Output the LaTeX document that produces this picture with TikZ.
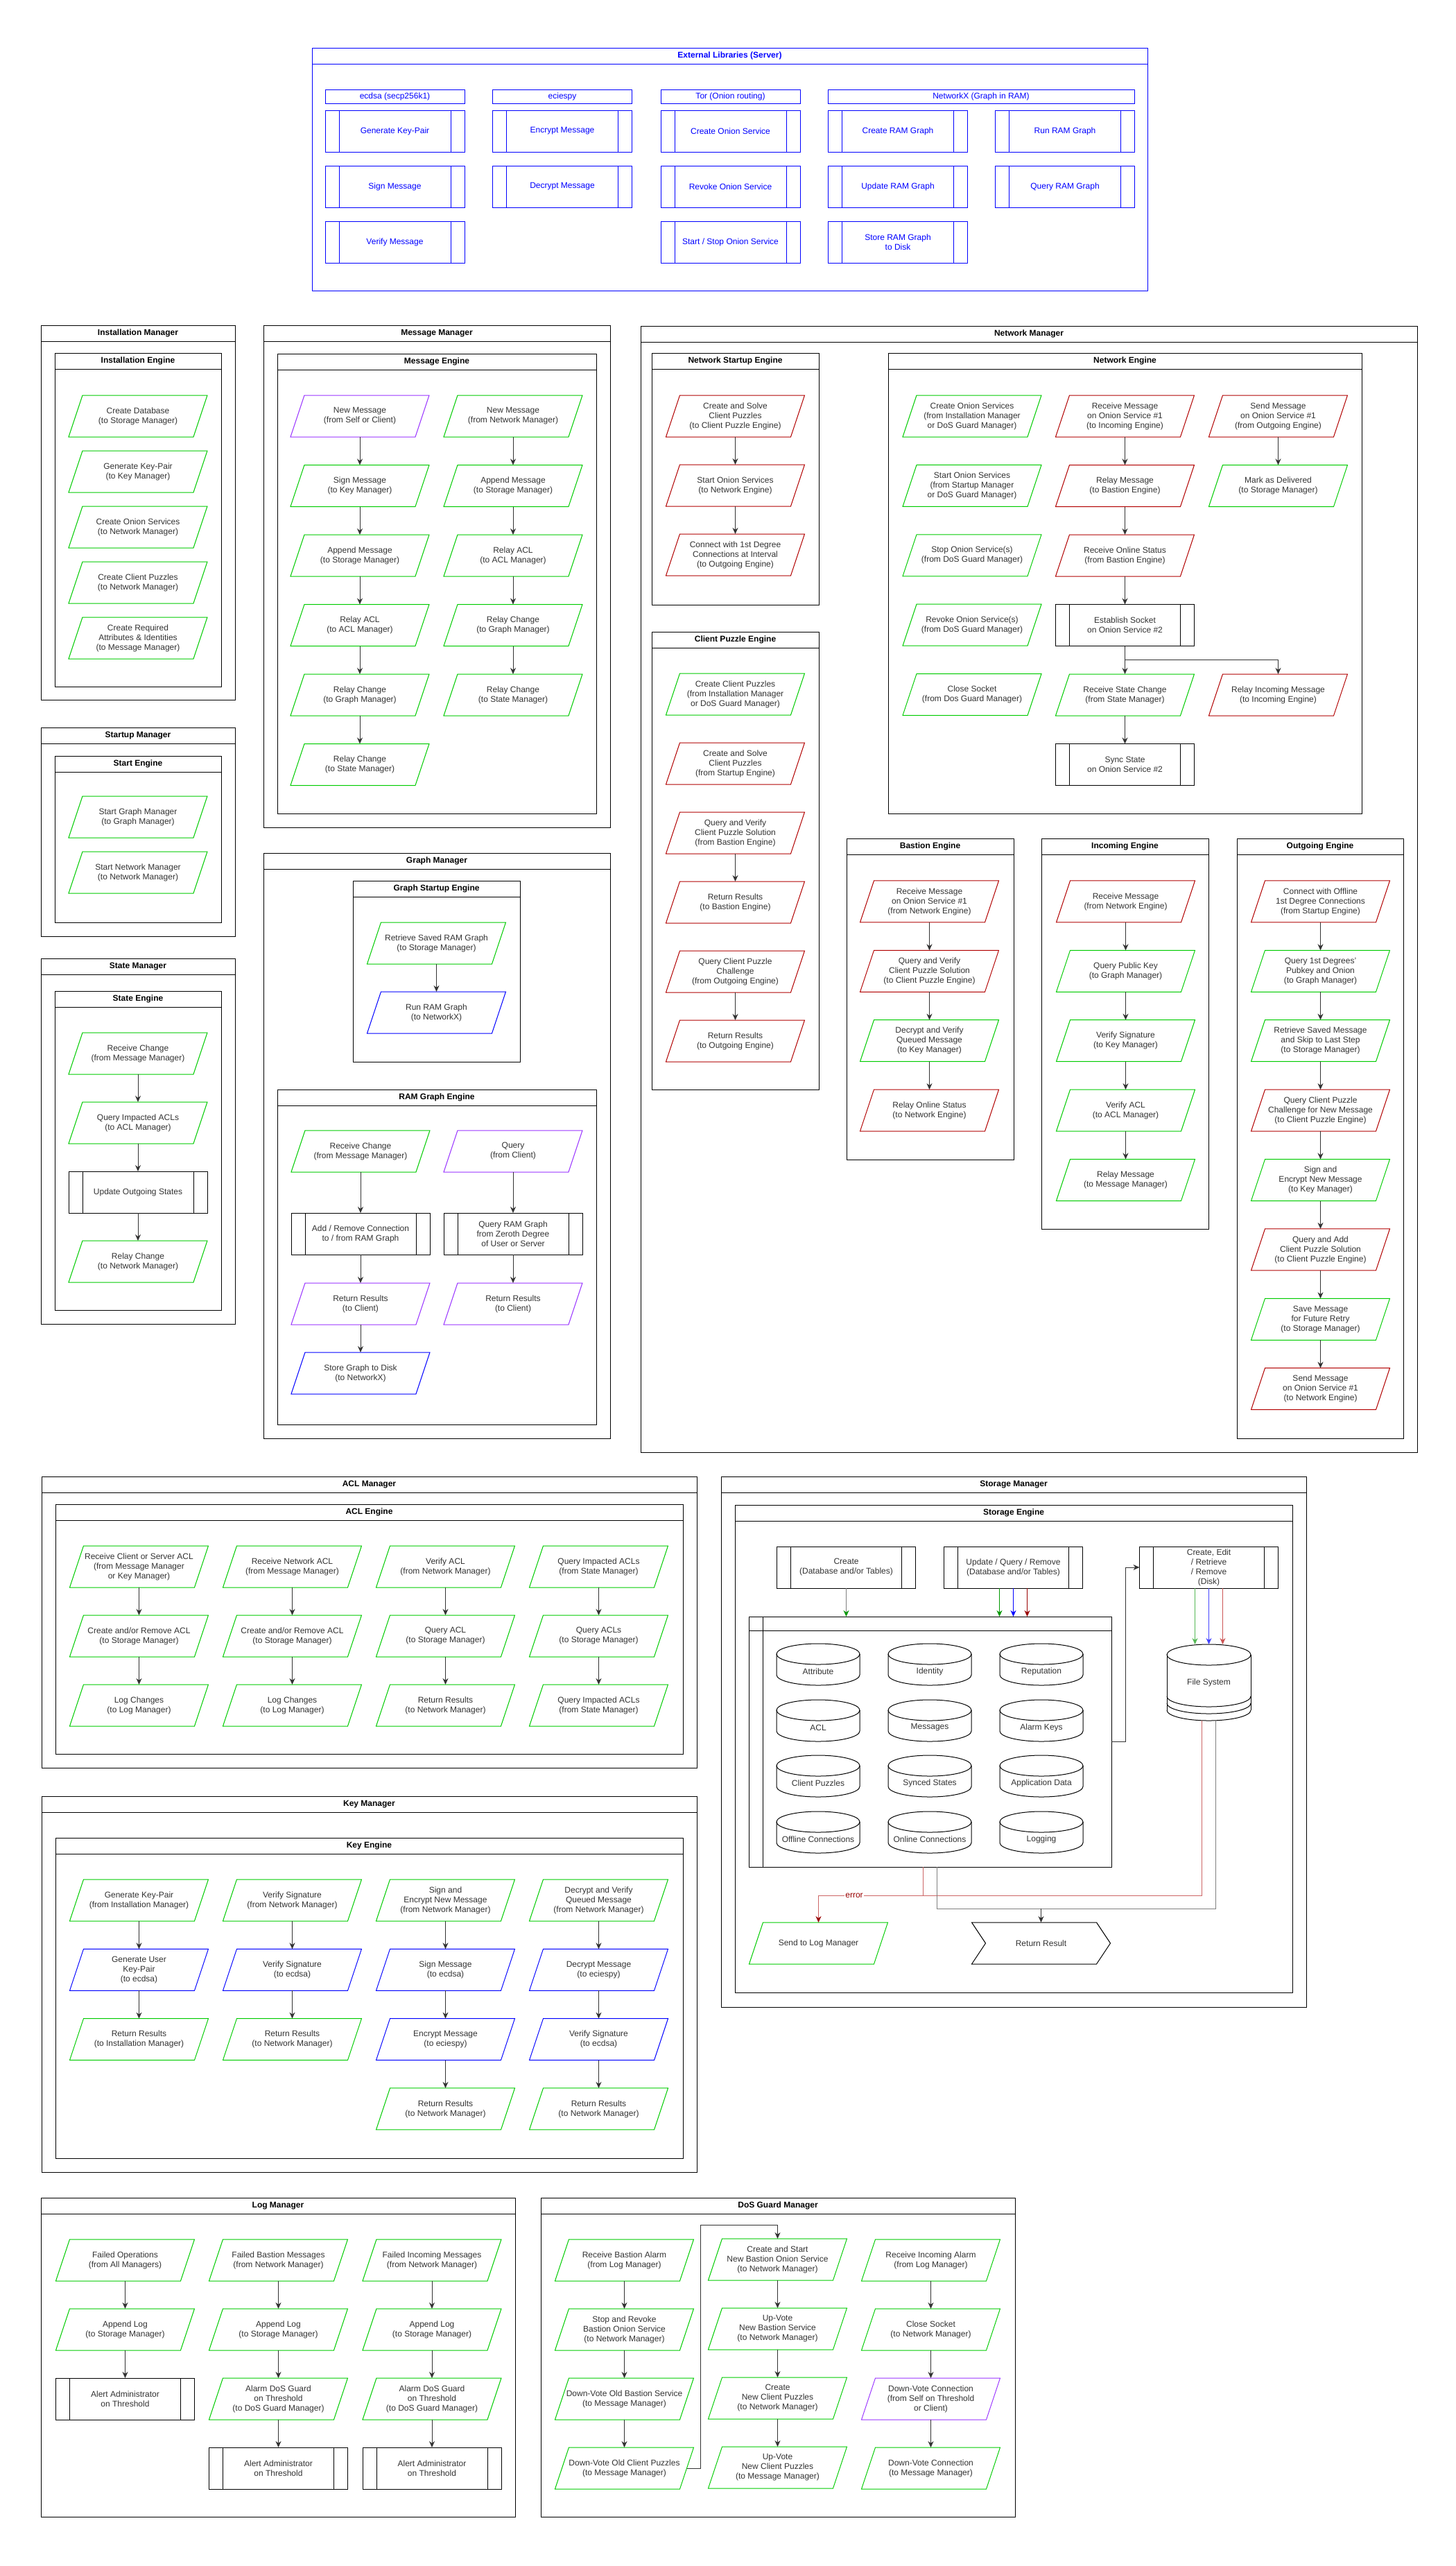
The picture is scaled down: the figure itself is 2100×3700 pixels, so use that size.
\documentclass[tikz,border=0pt]{standalone}
\usepackage{fontspec}
\setmainfont{Liberation Sans}
\usetikzlibrary{arrows.meta}

\definecolor{iogreen}{HTML}{00CC00}
\definecolor{iored}{HTML}{B20000}
\definecolor{ioblue}{HTML}{0000FF}
\definecolor{iopurple}{HTML}{9933FF}
\definecolor{txtgray}{HTML}{333333}
\definecolor{arrowgray}{HTML}{333333}
\definecolor{dbgreen}{HTML}{009900}
\definecolor{dbred}{HTML}{990000}
\definecolor{fsgreen}{HTML}{55B855}
\definecolor{fsblue}{HTML}{4444FF}
\definecolor{fsred}{HTML}{CC5555}
\definecolor{errred}{HTML}{CC6666}
\definecolor{retgray}{HTML}{808080}

\begin{document}
\begin{tikzpicture}[x=1pt, y=-1pt,
    base/.style={font=\fontsize{12}{14}\selectfont, text=txtgray, align=center, inner sep=0pt, outer sep=0pt},
    lanetitle/.style={font=\bfseries\fontsize{12}{14}\selectfont, text=black},
    lane/.style={draw=black, line width=1pt},
    io/.style={base, minimum width=200pt, minimum height=60pt,
      append after command={\pgfextra{\draw[draw=#1, line width=1pt]
        ([xshift=20pt]\tikzlastnode.north west) -- (\tikzlastnode.north east)
        -- ([xshift=-20pt]\tikzlastnode.south east) -- (\tikzlastnode.south west) -- cycle;}}},
    io/.default=iogreen,
    proc/.style={base, draw=#1, line width=1pt, minimum width=200pt, minimum height=60pt,
      append after command={\pgfextra{\draw[draw=#1, line width=1pt]
        ([xshift=20pt]\tikzlastnode.north west) -- ([xshift=20pt]\tikzlastnode.south west)
        ([xshift=-20pt]\tikzlastnode.north east) -- ([xshift=-20pt]\tikzlastnode.south east);}}},
    proc/.default=black,
    db/.style={base, minimum width=120pt, minimum height=40pt,
      append after command={\pgfextra{
        \draw[line width=1pt] ([yshift=25pt]\tikzlastnode.center) ellipse[x radius=60pt, y radius=15pt];
        \draw[line width=1pt] ([shift={(-60pt,25pt)}]\tikzlastnode.center) -- ([shift={(-60pt,-5pt)}]\tikzlastnode.center)
          arc[start angle=180, end angle=360, x radius=60pt, y radius=15pt] -- ([shift={(60pt,25pt)}]\tikzlastnode.center);}}},
    chevron/.style={base, minimum width=200pt, minimum height=60pt,
      append after command={\pgfextra{\draw[line width=1pt]
        (\tikzlastnode.north west) -- ([xshift=-20pt]\tikzlastnode.north east) -- (\tikzlastnode.east)
        -- ([xshift=-20pt]\tikzlastnode.south east) -- (\tikzlastnode.south west)
        -- ([xshift=20pt]\tikzlastnode.west) -- cycle;}}},
    flowline/.style={draw=arrowgray, line width=1pt, -{Stealth[length=9pt, width=8pt]}}]

  \path[fill=white, use as bounding box] (0,0) rectangle (2100,3700);

  % External Libraries
  \draw[lane, draw=ioblue] (450,69) rectangle (1655,419);
  \draw[lane, draw=ioblue] (450,92) -- (1655,92);
  \node[lanetitle, text=ioblue] (extLib) at (1052.5,80.5) {External Libraries (Server)};
  \node[base, draw=ioblue, line width=1pt, text=ioblue, minimum width=201pt, minimum height=20pt] (libEcdsa) at (569.5,139) {ecdsa (secp256k1)};
  \node[base, draw=ioblue, line width=1pt, text=ioblue, minimum width=201pt, minimum height=20pt] (libEcies) at (811,139) {eciespy};
  \node[base, draw=ioblue, line width=1pt, text=ioblue, minimum width=201pt, minimum height=20pt] (libTor) at (1053.5,139) {Tor (Onion routing)};
  \node[base, draw=ioblue, line width=1pt, text=ioblue, minimum width=442pt, minimum height=20pt] (libNx) at (1415,139) {NetworkX (Graph in RAM)};
  \foreach \nm/\x/\y/\t in {extGen/569.5/189/Generate Key-Pair, extEnc/811/189/Encrypt Message,
      extCreOn/1053.5/189/Create Onion Service, extCreRam/1295/189/Create RAM Graph, extRun/1536/189/Run RAM Graph,
      extSign/569.5/269/Sign Message, extDec/811/269/Decrypt Message, extRevOn/1053.5/269/Revoke Onion Service,
      extUpd/1295/269/Update RAM Graph, extQry/1536/269/Query RAM Graph,
      extVer/569.5/349/Verify Message, extStart/1053.5/349/{Start / Stop Onion Service},
      extStore/1295/349/{Store RAM Graph\\to Disk}}
    \node[proc=ioblue, text=ioblue, minimum width=201pt] (\nm) at (\x,\y) {\t};

  % managers and engines
  \foreach \xa/\ya/\xb/\yb/\nm/\ttl in {
      59/469/339/1009/instMgr/Installation Manager, 79/509/319/990/instEng/Installation Engine,
      59/1049/339/1350/startMgr/Startup Manager, 79/1090/319/1330/startEng/Start Engine,
      59/1382/339/1909/stateMgr/State Manager, 79/1429/319/1889/stateEng/State Engine,
      380/469/880/1193/msgMgr/Message Manager, 400/510/860/1173/msgEng/Message Engine,
      380/1230/880/2074/graphMgr/Graph Manager, 509/1270/750/1531/gsEng/Graph Startup Engine,
      400/1571/860/2054/ramEng/RAM Graph Engine,
      924/470/2044/2094/netMgr/Network Manager, 940/509/1181/872/nsEng/Network Startup Engine,
      940/911/1181/1571/cpEng/Client Puzzle Engine, 1281/509/1964/1173/neEng/Network Engine,
      1221/1209/1462/1672/baEng/Bastion Engine, 1502/1209/1743/1772/inEng/Incoming Engine,
      1784/1209/2024/2074/outEng/Outgoing Engine,
      60/2129/1005/2549/aclMgr/ACL Manager, 80/2169/985/2529/aclEng/ACL Engine,
      1040/2129/1884/2894/stoMgr/Storage Manager, 1060/2170/1864/2873/stoEng/Storage Engine,
      60/2590/1005/3132/keyMgr/Key Manager, 80/2650/985/3112/keyEng/Key Engine,
      59/3169/743/3629/logMgr/Log Manager, 780/3169/1464/3629/dosMgr/DoS Guard Manager}{
    \draw[lane] (\xa,\ya) rectangle (\xb,\yb);
    \draw[lane] (\xa,\ya+23) -- (\xb,\ya+23);
    \node[lanetitle] (\nm) at ({(\xa+\xb)/2},\ya+11.5) {\ttl};
  }

  % Installation / Startup / State
  \foreach \t [count=\k] in {{Create Database\\(to Storage Manager)}, {Generate Key-Pair\\(to Key Manager)},
      {Create Onion Services\\(to Network Manager)}, {Create Client Puzzles\\(to Network Manager)},
      {Create Required\\Attributes \& Identities\\(to Message Manager)}}
    \node[io] (inst\k) at (199,{520+80*\k}) {\t};
  \node[io] (start1) at (199,1178) {Start Graph Manager\\(to Graph Manager)};
  \node[io] (start2) at (199,1258) {Start Network Manager\\(to Network Manager)};
  \node[io] (state1) at (199,1519) {Receive Change\\(from Message Manager)};
  \node[io] (state2) at (199,1619) {Query Impacted ACLs\\(to ACL Manager)};
  \node[proc] (state3) at (199,1719) {Update Outgoing States};
  \node[io] (state4) at (199,1819) {Relay Change\\(to Network Manager)};
  \foreach \k [remember=\k as \p (initially 1)] in {2,...,4}
    \draw[flowline] (state\p) -- (state\k);

  % Message Manager
  \node[io=iopurple] (msgL1) at (519,600) {New Message\\(from Self or Client)};
  \foreach \t [count=\k from 2] in {{Sign Message\\(to Key Manager)}, {Append Message\\(to Storage Manager)},
      {Relay ACL\\(to ACL Manager)}, {Relay Change\\(to Graph Manager)}, {Relay Change\\(to State Manager)}}
    \node[io] (msgL\k) at (519,{600+100.5*(\k-1)}) {\t};
  \foreach \t [count=\k] in {{New Message\\(from Network Manager)}, {Append Message\\(to Storage Manager)},
      {Relay ACL\\(to ACL Manager)}, {Relay Change\\(to Graph Manager)}, {Relay Change\\(to State Manager)}}
    \node[io] (msgR\k) at (740,{600+100.5*(\k-1)}) {\t};
  \foreach \k [remember=\k as \p (initially 1)] in {2,...,6}
    \draw[flowline] (msgL\p) -- (msgL\k);
  \foreach \k [remember=\k as \p (initially 1)] in {2,...,5}
    \draw[flowline] (msgR\p) -- (msgR\k);

  % Graph Manager
  \node[io] (gs1) at (629.5,1360) {Retrieve Saved RAM Graph\\(to Storage Manager)};
  \node[io=ioblue] (gs2) at (629.5,1460) {Run RAM Graph\\(to NetworkX)};
  \draw[flowline] (gs1) -- (gs2);
  \node[io] (ramL1) at (520,1660) {Receive Change\\(from Message Manager)};
  \node[proc] (ramL2) at (520,1779) {Add / Remove Connection\\to / from RAM Graph};
  \node[io=iopurple] (ramL3) at (520,1880) {Return Results\\(to Client)};
  \node[io=ioblue] (ramL4) at (520,1980) {Store Graph to Disk\\(to NetworkX)};
  \node[io=iopurple] (ramR1) at (740,1660) {Query\\(from Client)};
  \node[proc] (ramR2) at (740,1779) {Query RAM Graph\\from Zeroth Degree\\of User or Server};
  \node[io=iopurple] (ramR3) at (740,1880) {Return Results\\(to Client)};
  \foreach \a/\b in {ramL1/ramL2, ramL2/ramL3, ramL3/ramL4, ramR1/ramR2, ramR2/ramR3}
    \draw[flowline] (\a) -- (\b);

  % Network Manager
  \foreach \t [count=\k] in {{Create and Solve\\Client Puzzles\\(to Client Puzzle Engine)},
      {Start Onion Services\\(to Network Engine)}, {Connect with 1st Degree\\Connections at Interval\\(to Outgoing Engine)}}
    \node[io=iored] (ns\k) at (1060.5,{500+100*\k}) {\t};
  \draw[flowline] (ns1) -- (ns2);
  \draw[flowline] (ns2) -- (ns3);
  \node[io] (cp1) at (1060.5,1001) {Create Client Puzzles\\(from Installation Manager\\or DoS Guard Manager)};
  \foreach \t [count=\k from 2] in {{Create and Solve\\Client Puzzles\\(from Startup Engine)},
      {Query and Verify\\Client Puzzle Solution\\(from Bastion Engine)}, {Return Results\\(to Bastion Engine)},
      {Query Client Puzzle\\Challenge\\(from Outgoing Engine)}, {Return Results\\(to Outgoing Engine)}}
    \node[io=iored] (cp\k) at (1060.5,{901+100*\k}) {\t};
  \draw[flowline] (cp3) -- (cp4);
  \draw[flowline] (cp5) -- (cp6);

  \foreach \t [count=\k] in {{Create Onion Services\\(from Installation Manager\\or DoS Guard Manager)},
      {Start Onion Services\\(from Startup Manager\\or DoS Guard Manager)},
      {Stop Onion Service(s)\\(from DoS Guard Manager)}, {Revoke Onion Service(s)\\(from DoS Guard Manager)},
      {Close Socket\\(from Dos Guard Manager)}}
    \node[io] (neC\k) at (1402,{499.6+100.4*\k}) {\t};
  \node[io=iored] (neRecv) at (1622.5,600) {Receive Message\\on Onion Service \#1\\(to Incoming Engine)};
  \node[io=iored] (neRelay) at (1622.5,700.5) {Relay Message\\(to Bastion Engine)};
  \node[io=iored] (neStatus) at (1622.5,801) {Receive Online Status\\(from Bastion Engine)};
  \node[proc] (neSock) at (1622.5,901.5) {Establish Socket\\on Onion Service \#2};
  \node[io] (neState) at (1622.5,1002) {Receive State Change\\(from State Manager)};
  \node[proc] (neSync) at (1622.5,1102.5) {Sync State\\on Onion Service \#2};
  \node[io=iored] (neSend) at (1843.5,600) {Send Message\\on Onion Service \#1\\(from Outgoing Engine)};
  \node[io] (neMark) at (1843.5,700.5) {Mark as Delivered\\(to Storage Manager)};
  \node[io=iored] (neRelayIn) at (1843.5,1002) {Relay Incoming Message\\(to Incoming Engine)};
  \foreach \a/\b in {neRecv/neRelay, neRelay/neStatus, neStatus/neSock, neSock/neState, neState/neSync, neSend/neMark}
    \draw[flowline] (\a) -- (\b);
  \draw[flowline] (neSock.south) -- ++(0,20) -| (neRelayIn.north);

  \foreach \c/\t [count=\k] in {iored/{Receive Message\\on Onion Service \#1\\(from Network Engine)},
      iored/{Query and Verify\\Client Puzzle Solution\\(to Client Puzzle Engine)},
      iogreen/{Decrypt and Verify\\Queued Message\\(to Key Manager)}, iored/{Relay Online Status\\(to Network Engine)}}
    \node[io=\c] (ba\k) at (1340.5,{1199.5+100.4*\k}) {\t};
  \foreach \c/\t [count=\k] in {iored/{Receive Message\\(from Network Engine)}, iogreen/{Query Public Key\\(to Graph Manager)},
      iogreen/{Verify Signature\\(to Key Manager)}, iogreen/{Verify ACL\\(to ACL Manager)},
      iogreen/{Relay Message\\(to Message Manager)}}
    \node[io=\c] (in\k) at (1623.5,{1199.5+100.4*\k}) {\t};
  \foreach \c/\t [count=\k] in {iored/{Connect with Offline\\1st Degree Connections\\(from Startup Engine)},
      iogreen/{Query 1st Degrees'\\Pubkey and Onion\\(to Graph Manager)},
      iogreen/{Retrieve Saved Message\\and Skip to Last Step\\(to Storage Manager)},
      iored/{Query Client Puzzle\\Challenge for New Message\\(to Client Puzzle Engine)},
      iogreen/{Sign and\\Encrypt New Message\\(to Key Manager)},
      iored/{Query and Add\\Client Puzzle Solution\\(to Client Puzzle Engine)},
      iogreen/{Save Message\\for Future Retry\\(to Storage Manager)},
      iored/{Send Message\\on Onion Service \#1\\(to Network Engine)}}
    \node[io=\c] (out\k) at (1904.5,{1199.5+100.4*\k}) {\t};
  \foreach \k [remember=\k as \p (initially 1)] in {2,...,4}
    \draw[flowline] (ba\p) -- (ba\k);
  \foreach \k [remember=\k as \p (initially 1)] in {2,...,5}
    \draw[flowline] (in\p) -- (in\k);
  \foreach \k [remember=\k as \p (initially 1)] in {2,...,8}
    \draw[flowline] (out\p) -- (out\k);

  % ACL Manager
  \foreach \t [count=\k] in {{Receive Client or Server ACL\\(from Message Manager\\or Key Manager)},
      {Create and/or Remove ACL\\(to Storage Manager)}, {Log Changes\\(to Log Manager)}}
    \node[io] (aclA\k) at (200.5,{2159+100*\k}) {\t};
  \foreach \t [count=\k] in {{Receive Network ACL\\(from Message Manager)},
      {Create and/or Remove ACL\\(to Storage Manager)}, {Log Changes\\(to Log Manager)}}
    \node[io] (aclB\k) at (421.5,{2159+100*\k}) {\t};
  \foreach \t [count=\k] in {{Verify ACL\\(from Network Manager)},
      {Query ACL\\(to Storage Manager)}, {Return Results\\(to Network Manager)}}
    \node[io] (aclC\k) at (642.5,{2159+100*\k}) {\t};
  \foreach \t [count=\k] in {{Query Impacted ACLs\\(from State Manager)},
      {Query ACLs\\(to Storage Manager)}, {Query Impacted ACLs\\(from State Manager)}}
    \node[io] (aclD\k) at (863.5,{2159+100*\k}) {\t};
  \foreach \col in {A,B,C,D} {
    \draw[flowline] (acl\col1) -- (acl\col2);
    \draw[flowline] (acl\col2) -- (acl\col3);
  }

  % Key Manager
  \foreach \c/\t [count=\k] in {iogreen/{Generate Key-Pair\\(from Installation Manager)},
      ioblue/{Generate User\\Key-Pair\\(to ecdsa)}, iogreen/{Return Results\\(to Installation Manager)}}
    \node[io=\c] (keyA\k) at (200.5,{2639.7+100.3*\k}) {\t};
  \foreach \c/\t [count=\k] in {iogreen/{Verify Signature\\(from Network Manager)},
      ioblue/{Verify Signature\\(to ecdsa)}, iogreen/{Return Results\\(to Network Manager)}}
    \node[io=\c] (keyB\k) at (421.5,{2639.7+100.3*\k}) {\t};
  \foreach \c/\t [count=\k] in {iogreen/{Sign and\\Encrypt New Message\\(from Network Manager)},
      ioblue/{Sign Message\\(to ecdsa)}, ioblue/{Encrypt Message\\(to eciespy)},
      iogreen/{Return Results\\(to Network Manager)}}
    \node[io=\c] (keyC\k) at (642.5,{2639.7+100.3*\k}) {\t};
  \foreach \c/\t [count=\k] in {iogreen/{Decrypt and Verify\\Queued Message\\(from Network Manager)},
      ioblue/{Decrypt Message\\(to eciespy)}, ioblue/{Verify Signature\\(to ecdsa)},
      iogreen/{Return Results\\(to Network Manager)}}
    \node[io=\c] (keyD\k) at (863.5,{2639.7+100.3*\k}) {\t};
  \foreach \col/\n in {A/3, B/3, C/4, D/4}
    \foreach \k [remember=\k as \p (initially 1)] in {2,...,\n}
      \draw[flowline] (key\col\p) -- (key\col\k);

  % Storage Manager
  \node[proc] (stCreate) at (1220.5,2260) {Create\\(Database and/or Tables)};
  \node[proc] (stUpdate) at (1461.5,2260) {Update / Query / Remove\\(Database and/or Tables)};
  \node[proc] (stDisk) at (1743.5,2260) {Create, Edit\\/ Retrieve\\/ Remove\\(Disk)};
  \node[base, draw=black, line width=1pt, minimum width=523pt, minimum height=361pt] (stTables) at (1341.5,2511.5) {};
  \draw[lane] ([yshift=-20pt]stTables.north west) -- ([yshift=-20pt]stTables.north east);
  \draw[lane] ([xshift=20pt]stTables.north west) -- ([xshift=20pt]stTables.south west);
  \foreach \nm/\x/\y/\t in {dbAttr/1180/2400/Attribute, dbIdent/1341/2400/Identity, dbRep/1502/2400/Reputation,
      dbAcl/1180/2481/ACL, dbMsg/1341/2481/Messages, dbAlarm/1502/2481/Alarm Keys,
      dbPuz/1180/2561/Client Puzzles, dbSync/1341/2561/Synced States, dbApp/1502/2561/Application Data,
      dbOff/1180/2642/Offline Connections, dbOn/1341/2642/Online Connections, dbLog/1502/2642/Logging}
    \node[db] (\nm) at (\x,\y+10) {\t};
  \node[base, minimum width=121pt, minimum height=110pt] (fs) at (1743.5,2426) {File System};
  \draw[lane] ([yshift=-15pt]fs.north) ellipse[x radius=60.5pt, y radius=15pt];
  \draw[lane] ([yshift=-15pt]fs.north west) -- ([yshift=15pt]fs.south west)
    ([yshift=-15pt]fs.north east) -- ([yshift=15pt]fs.south east);
  \foreach \h in {15,25,35}
    \draw[lane] ([yshift=\h pt]fs.south west) arc[start angle=180, end angle=360, x radius=60.5pt, y radius=15pt];
  \node[io] (stLog) at (1180.5,2802) {Send to Log Manager};
  \node[chevron] (stRet) at (1501.5,2802) {Return Result};

  \draw[draw=retgray, line width=1pt, -{Stealth[length=9pt, width=8pt, color=dbgreen]}]
    (stCreate.south) -- (stCreate.south |- stTables.north);
  \foreach \dx/\c in {-20/dbgreen, 0/ioblue, 20/dbred}
    \draw[flowline, draw=\c] ([xshift=\dx pt]stUpdate.south) -- ([xshift=\dx pt]stUpdate.south |- stTables.north);
  \foreach \dx/\c in {-20/fsgreen, 0/fsblue, 20/fsred}
    \draw[flowline, draw=\c] ([xshift=\dx pt]stDisk.south) -- ([xshift=\dx pt]stDisk.south |- fs.north);
  \draw[flowline] (stTables.east) -- ++(20,0) |- (stDisk.west);
  \coordinate (errbus) at (1180.5,2733);
  \coordinate (retbus) at (1501.5,2752);
  \draw[draw=errred, line width=1pt] ([xshift=-10pt]stTables.south) -- ([xshift=-10pt]stTables.south |- errbus);
  \draw[draw=errred, line width=1pt, -{Stealth[length=9pt, width=8pt, color=dbred]}]
    ([xshift=-10pt]fs.south) |- (errbus) -- (stLog.north);
  \node[base, text=dbred, fill=white, inner sep=1pt] (errLabel) at (1232,2733) {error};
  \draw[draw=retgray, line width=1pt] ([xshift=10pt]stTables.south) |- ([xshift=10pt]fs.south |- retbus)
    -- ([xshift=10pt]fs.south);
  \draw[flowline] (retbus) -- (stRet.north);

  % Log Manager
  \foreach \col/\x/\t in {A/180.5/{Failed Operations\\(from All Managers)},
      B/401.5/{Failed Bastion Messages\\(from Network Manager)},
      C/623/{Failed Incoming Messages\\(from Network Manager)}} {
    \node[io] (log\col1) at (\x,3259) {\t};
    \node[io] (log\col2) at (\x,3359) {Append Log\\(to Storage Manager)};
    \draw[flowline] (log\col1) -- (log\col2);
  }
  \node[proc] (logA3) at (180.5,3459) {Alert Administrator\\on Threshold};
  \draw[flowline] (logA2) -- (logA3);
  \foreach \col/\x in {B/401.5, C/623} {
    \node[io] (log\col3) at (\x,3459) {Alarm DoS Guard\\on Threshold\\(to DoS Guard Manager)};
    \node[proc] (log\col4) at (\x,3559) {Alert Administrator\\on Threshold};
    \draw[flowline] (log\col2) -- (log\col3);
    \draw[flowline] (log\col3) -- (log\col4);
  }

  % DoS Guard Manager
  \foreach \t [count=\k] in {{Receive Bastion Alarm\\(from Log Manager)},
      {Stop and Revoke\\Bastion Onion Service\\(to Network Manager)},
      {Down-Vote Old Bastion Service\\(to Message Manager)}, {Down-Vote Old Client Puzzles\\(to Message Manager)}}
    \node[io] (dgA\k) at (900.5,{3159+100*\k}) {\t};
  \foreach \t [count=\k] in {{Create and Start\\New Bastion Onion Service\\(to Network Manager)},
      {Up-Vote\\New Bastion Service\\(to Network Manager)}, {Create\\New Client Puzzles\\(to Network Manager)},
      {Up-Vote\\New Client Puzzles\\(to Message Manager)}}
    \node[io] (dgB\k) at (1121.5,{3158+100*\k}) {\t};
  \foreach \c/\t [count=\k] in {iogreen/{Receive Incoming Alarm\\(from Log Manager)},
      iogreen/{Close Socket\\(to Network Manager)},
      iopurple/{Down-Vote Connection\\(from Self on Threshold\\or Client)},
      iogreen/{Down-Vote Connection\\(to Message Manager)}}
    \node[io=\c] (dgC\k) at (1342.5,{3159+100*\k}) {\t};
  \foreach \col in {A,B,C}
    \foreach \k [remember=\k as \p (initially 1)] in {2,...,4}
      \draw[flowline] (dg\col\p) -- (dg\col\k);
  \draw[flowline] ([xshift=-10pt]dgA4.east) -- ++(20,0) |- ([yshift=20pt]dgB1.north) -- (dgB1.north);
\end{tikzpicture}
\end{document}
